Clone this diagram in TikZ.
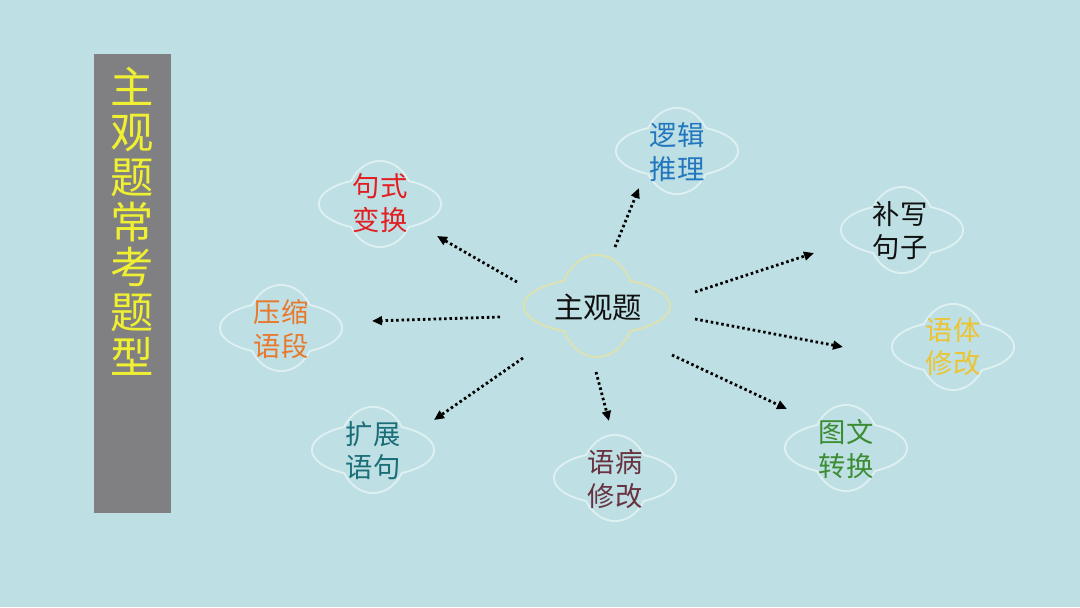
\documentclass[tikz,border=0pt]{standalone}
\usepackage{fontspec}
\setmainfont{Noto Sans CJK SC}
\usetikzlibrary{arrows.meta}
\definecolor{bg}{RGB}{190,224,228}
\definecolor{bar}{RGB}{128,128,130}
\definecolor{bartext}{RGB}{240,240,50}
\definecolor{rimw}{RGB}{222,240,242}
\definecolor{rimy}{RGB}{222,226,176}
\definecolor{cred}{RGB}{226,30,34}
\definecolor{cblue}{RGB}{34,118,190}
\definecolor{cblack}{RGB}{16,16,16}
\definecolor{cgold}{RGB}{236,196,50}
\definecolor{corange}{RGB}{232,120,44}
\definecolor{cteal}{RGB}{26,110,120}
\definecolor{cmaroon}{RGB}{104,50,64}
\definecolor{cgreen}{RGB}{60,140,52}
\tikzset{
  bubble/.pic={
    \draw[line width=3pt,#1] (0,0) ellipse [x radius=60, y radius=25];
    \draw[line width=3pt,#1] (0,0) ellipse [x radius=33, y radius=42];
    \fill[bg] (0,0) ellipse [x radius=60, y radius=25];
    \fill[bg] (0,0) ellipse [x radius=33, y radius=42];
  },
  bigbubble/.pic={
    \draw[line width=3pt,#1] (0,0) ellipse [x radius=72, y radius=27];
    \draw[line width=3pt,#1] (0,0) ellipse [x radius=37, y radius=50];
    \fill[bg] (0,0) ellipse [x radius=72, y radius=27];
    \fill[bg] (0,0) ellipse [x radius=37, y radius=50];
  },
  label/.style={align=center, font=\fontsize{20.5}{25}\selectfont, inner sep=0pt},
  link/.style={line width=2.1pt, dash pattern=on 1.9pt off 2.1pt,
    -{Triangle[length=7.5pt,width=6.5pt]}},
}
\begin{document}
\begin{tikzpicture}[x=0.75pt,y=-0.75pt]
\fill[bg] (0,0) rectangle (1080,607);
\useasboundingbox (0,0) rectangle (1080,607);
% side bar
\fill[bar] (94,54) rectangle (171,513);
\node[font=\fontsize{32.5}{33.8}\selectfont, text=bartext, align=center, inner sep=0pt, anchor=north]
  (bartitle) at (132,67) {主\\观\\题\\常\\考\\题\\型};
% clouds
\pic at (597,306) {bigbubble=rimy};
\pic at (380,204) {bubble=rimw};
\pic at (677,151) {bubble=rimw};
\pic at (902,230) {bubble=rimw};
\pic at (953,347) {bubble=rimw};
\pic at (281,328) {bubble=rimw};
\pic at (373,450) {bubble=rimw};
\pic at (615,478) {bubble=rimw};
\pic at (846,448) {bubble=rimw};
% texts
\node[font=\fontsize{22}{24}\selectfont, inner sep=0pt, text=cblack] (main) at (598,307) {主观题};
\node[label, text=cred] (s1) at (380,203) {句式\\变换};
\node[label, text=cblue] (s2) at (677,152) {逻辑\\推理};
\node[label, text=cblack] (s3) at (900,231) {补写\\句子};
\node[label, text=cgold] (s4) at (953,347) {语体\\修改};
\node[label, text=corange] (s5) at (281,329) {压缩\\语段};
\node[label, text=cteal] (s6) at (373,451) {扩展\\语句};
\node[label, text=cmaroon] (s7) at (615,479) {语病\\修改};
\node[label, text=cgreen] (s8) at (846,449) {图文\\转换};
% arrow end points
\coordinate (a1s) at (517,282); \coordinate (a1e) at (437,236);
\coordinate (a2s) at (615,247); \coordinate (a2e) at (639,188);
\coordinate (a3s) at (695,292); \coordinate (a3e) at (814,253);
\coordinate (a4s) at (695,319); \coordinate (a4e) at (843,347);
\coordinate (a5s) at (500,317); \coordinate (a5e) at (372,321);
\coordinate (a6s) at (523,358); \coordinate (a6e) at (434,420);
\coordinate (a7s) at (596,372); \coordinate (a7e) at (609,421);
\coordinate (a8s) at (672,355); \coordinate (a8e) at (787,409);
\foreach \i in {1,...,8} \draw[link] (a\i s) -- (a\i e);
\end{tikzpicture}
\end{document}
